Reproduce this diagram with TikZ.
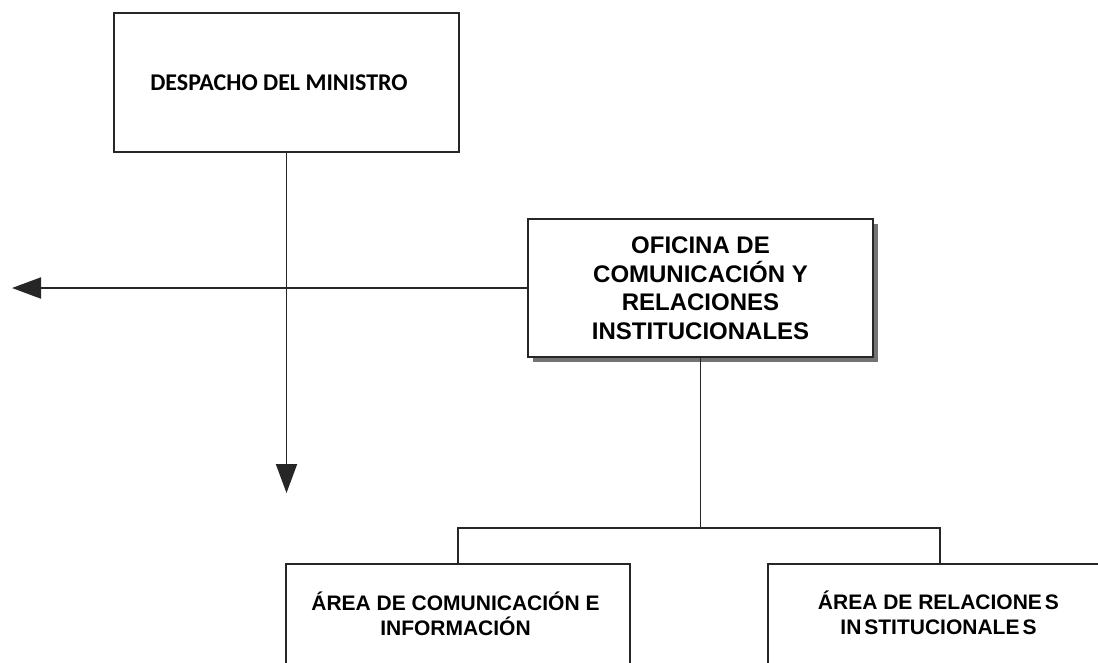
\documentclass[tikz,border=0pt]{standalone}
\usepackage{fontspec}
\setmainfont{Liberation Sans}
\newfontfamily\calib{Carlito}
\usetikzlibrary{arrows.meta,shadows}
\begin{document}
\begin{tikzpicture}[x=1pt,y=-1pt,
  box/.style={draw=black!85, line width=1.9pt, fill=white, rectangle, inner sep=0pt},
  conn/.style={draw=black!85, line width=1.9pt},
  tri/.style={-{Triangle[length=29pt,width=21pt]}},
  txt/.style={align=center, inner sep=0pt, font=\bfseries\fontsize{24}{28.5}\selectfont},
  subtxt/.style={align=center, inner sep=0pt, font=\bfseries\fontsize{21}{25}\selectfont}]
\useasboundingbox (0,0) rectangle (1098,662);
\clip (0,0) rectangle (1098,662);
\fill[white] (0,0) rectangle (1098,662);
% top box
\node[box, minimum width=345pt, minimum height=139pt,
      font=\calib\bfseries\fontsize{24}{28}\selectfont] (min) at (286.5,82.5)
      {DESPACHO DEL MINISTRO\hspace*{15pt}};
% middle box
\node[box, minimum width=345pt, minimum height=138pt,
      drop shadow={shadow xshift=4.5pt, shadow yshift=-4.5pt, fill=black!55, opacity=1},
      txt] (ofi) at (700.5,288)
      {\raisebox{9pt}{\parbox{340pt}{\centering OFICINA DE\\COMUNICACIÓN Y\\RELACIONES\\INSTITUCIONALES}}};
% bottom boxes
\node[box, minimum width=344pt, minimum height=160pt, anchor=north] (acom) at (458,563) {};
\node[box, minimum width=344pt, minimum height=160pt, anchor=north] (arel) at (940,563) {};
\node[subtxt] (acomt) at (455.5,614) {ÁREA DE COMUNICACIÓN E\\INFORMACIÓN};
\node[subtxt] (arelt) at (938.5,613) {ÁREA DE RELACIONE\kern3pt S\\IN\kern3pt STITUCIONALE\kern3pt S};
% connectors
\coordinate (down) at (286.5,493);
\coordinate (left) at (12,288);
\coordinate (bus) at (700.5,528);
\draw[conn, tri] (min.south) -- (down);
\draw[conn, tri] (ofi.west) -- (left);
\draw[conn] (ofi.south) -- (bus);
\draw[conn] (bus) -| (acom.north);
\draw[conn] (bus) -| (arel.north);
\end{tikzpicture}
\end{document}
